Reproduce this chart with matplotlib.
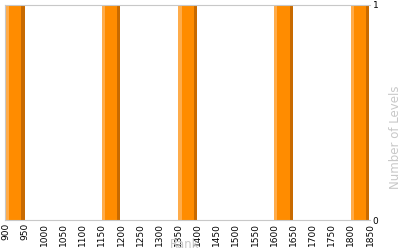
import matplotlib
matplotlib.use("Agg")
import matplotlib.pyplot as plt

# ── Data ─────────────────────────────────────────────────────────────────────
bin_starts = [900, 1150, 1350, 1600, 1800]
bin_width = 48
levels = [1, 1, 1, 1, 1]
x_ticks = list(range(900, 1851, 50))

MAIN = "#ff8c00"
LIGHT = "#ffac4a"
DARK = "#c86a00"
GRID = "#c8c8c8"
LABEL = "#c8c8c8"

fig = plt.figure(figsize=(4, 2.5), dpi=100)
ax = fig.add_axes([0.0125, 0.12, 0.9125, 0.86])

# three-tone bars: light left edge, main body, dark right edge
edge = bin_width * 0.17
ax.bar(bin_starts, levels, width=bin_width, align="edge", color=MAIN, linewidth=0)
ax.bar(bin_starts, levels, width=edge, align="edge", color=LIGHT, linewidth=0)
ax.bar([s + bin_width - edge for s in bin_starts], levels, width=edge,
       align="edge", color=DARK, linewidth=0)

ax.set_xlim(897, 1850)
ax.set_ylim(0, 1)
ax.set_xticks(x_ticks)
ax.set_xticklabels([str(t) for t in x_ticks], rotation=90, fontsize=6.5)
ax.set_yticks([0, 1])
ax.yaxis.tick_right()
ax.yaxis.set_label_position("right")
ax.tick_params(axis="both", length=0, pad=2)
ax.tick_params(axis="y", labelsize=6.5)

for side in ["left", "top", "bottom"]:
    ax.spines[side].set_color(GRID)
ax.spines["right"].set_visible(False)

ax.set_ylabel("Number of Levels", color=LABEL, fontsize=8.5)
ax.yaxis.set_label_coords(1.052, 0.386)
ax.set_xlabel("Rank", color=LABEL, fontsize=8.5)
ax.xaxis.set_label_coords(0.493, -0.084)

fig.savefig("out.png", dpi=100)
